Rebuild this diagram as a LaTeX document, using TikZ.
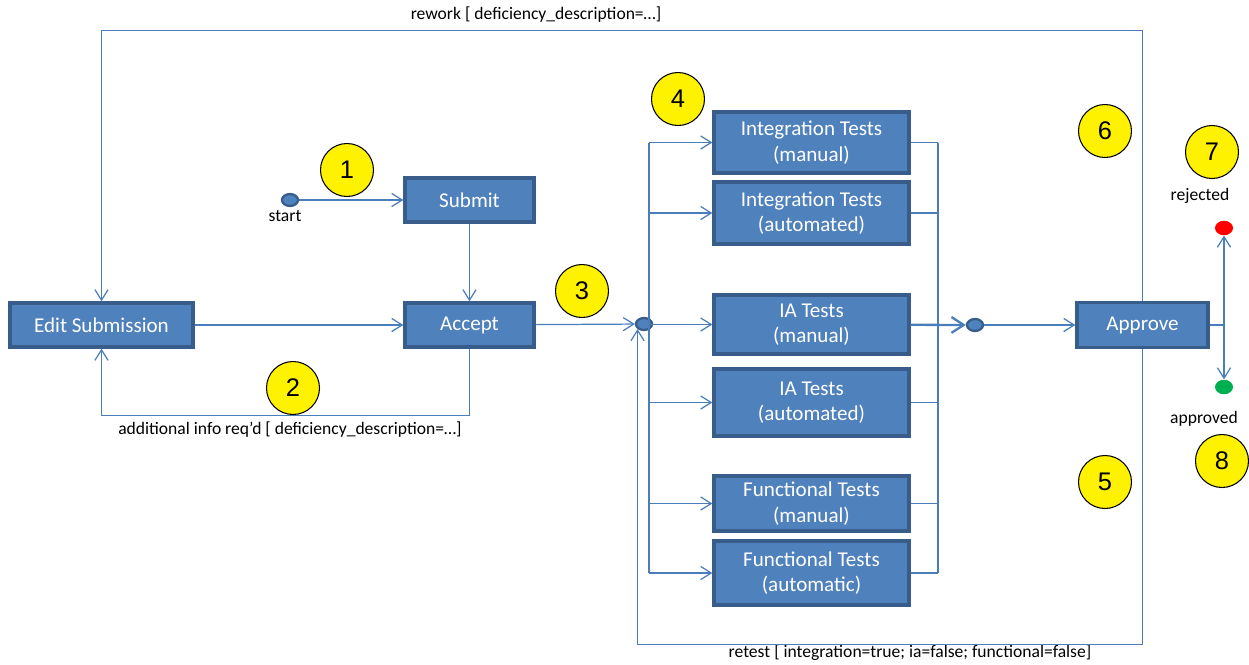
\documentclass[tikz,border=0pt]{standalone}
\usepackage{fontspec}
\setmainfont{Carlito}
\newfontfamily\numfamily{Liberation Sans}
\usetikzlibrary{shapes,positioning,fit,calc,arrows.meta}

\definecolor{boxfill}{HTML}{4F81BD}
\definecolor{boxedge}{HTML}{385D8A}
\definecolor{linkblue}{HTML}{4A7EBB}
\definecolor{okgreen}{HTML}{00B050}

\begin{document}
\begin{tikzpicture}[x=0.02cm, y=-0.02cm]

        % boxes, dots and wires
        \tikzset{
            state/.style={draw=boxedge, fill=boxfill, line width=1.9pt,
                text=white, align=center, inner sep=0pt,
                font=\fontsize{12}{14.5}\selectfont},
            knot/.style={ellipse, draw=boxedge, fill=boxfill, line width=1.3pt,
                inner sep=0pt, minimum width=0.32cm, minimum height=0.24cm},
            final/.style={ellipse, draw=none, inner sep=0pt,
                minimum width=0.36cm, minimum height=0.29cm},
            link/.style={draw=linkblue, line width=0.7pt},
            flow/.style={link, -{Straight Barb[length=6pt,width=7.5pt]}},
            lbl/.style={font=\fontsize{10}{12}\selectfont},
            num/.style={circle, draw=black, fill=yellow, line width=0.6pt,
                inner sep=0pt, minimum size=1.06cm,
                font=\numfamily\fontsize{14.5}{16}\selectfont}
        }

        \useasboundingbox (0,0) rectangle (1249,664);

        \begin{scope}
            \node[knot] (start) at (290, 200) {};
            \node[lbl] (startlbl) at (285, 216) {start};
            \node[state, minimum width=2.58cm, minimum height=0.88cm]
                (submit) at (469.5, 200) {Submit};
            \node[state, minimum width=2.58cm, minimum height=0.88cm]
                (accept) at (469.5, 325) {Accept};
            \node[state, minimum width=3.66cm, minimum height=0.88cm]
                (editsub) at (101.5, 325) {Edit Submission};

            \node[knot] (fork) at (644, 324) {};
            \coordinate (forkbar) at (649, 324);

            \node[state, minimum width=3.9cm, minimum height=1.22cm]
                (intman) at (811.5, 142.5) {Integration Tests\\(manual)};
            \node[state, minimum width=3.9cm, minimum height=1.24cm]
                (intauto) at (811.5, 213) {Integration Tests\\(automated)};
            \node[state, minimum width=3.9cm, minimum height=1.18cm]
                (iaman) at (811.5, 324.5) {IA Tests\\(manual)};
            \node[state, minimum width=3.9cm, minimum height=1.34cm]
                (iaauto) at (811.5, 402.5) {IA Tests\\(automated)};
            \node[state, minimum width=3.9cm, minimum height=1.10cm]
                (funman) at (811.5, 503.5) {Functional Tests\\(manual)};
            \node[state, minimum width=3.9cm, minimum height=1.28cm]
                (funauto) at (811.5, 573) {Functional Tests\\(automatic)};

            \coordinate (joinbar) at (938, 325);
            \node[knot] (join) at (975, 325) {};

            \node[state, minimum width=2.62cm, minimum height=0.9cm]
                (approve) at (1142.5, 325) {Approve};
            \coordinate (split) at (1224, 325);
            \node[final, fill=red] (rejdot) at (1224, 228) {};
            \node[final, fill=okgreen] (appdot) at (1224, 387) {};
            \node[lbl] (rejlbl) at (1200, 196) {rejected};
            \node[lbl] (applbl) at (1204, 419) {approved};

            \node[lbl] (reworklbl) at (536, 15)
                {rework [ deficiency\_description=…]};
            \node[lbl] (infolbl) at (290, 430)
                {additional info req'd [ deficiency\_description=…]};
            \node[lbl] (retestlbl) at (910, 653)
                {retest [ integration=true; ia=false; functional=false]};
        \end{scope}

        \begin{scope}
            \draw[flow] (start) -- (submit);
            \draw[flow] (submit) -- (accept);
            \draw[flow] (editsub) -- (accept);
            \draw[flow] (accept) -- (fork);

            % fork out to the tests, join them again
            \draw[link] (forkbar |- intman) -- (forkbar |- funauto);
            \draw[link] (joinbar |- intman) -- (joinbar |- funauto);
            \foreach \t in {intman,intauto,iaman,iaauto,funman,funauto}
            {
                \draw[flow] (forkbar |- \t) -- (\t);
                \draw[link] (\t) -- (joinbar |- \t);
            }
            \draw[link, line width=1.3pt,
                -{Straight Barb[length=7pt,width=9pt]}] (iaman) -- (join);
            \draw[flow] (join) -- (approve);

            \draw[link] (approve) -- (split);
            \draw[flow] (split) -- (rejdot);
            \draw[flow] (split) -- (appdot);

            % loops back
            \draw[flow] (approve.north) -- ++(0, -270.5) -| (editsub.north);
            \draw[flow] (accept.south) -- ++(0, 67) -| (editsub.south);
            \draw[flow] (approve.south) -- ++(0, 295) -| (fork.south west);
        \end{scope}

        \begin{scope}
            \node[num] (n1) at (347, 170) {1};
            \node[num] (n2) at (293, 388) {2};
            \node[num] (n3) at (582, 291) {3};
            \node[num] (n4) at (678, 99) {4};
            \node[num] (n5) at (1105, 482) {5};
            \node[num] (n6) at (1105, 131) {6};
            \node[num] (n7) at (1212, 152) {7};
            \node[num] (n8) at (1222, 461) {8};
        \end{scope}

\end{tikzpicture}
\end{document}
